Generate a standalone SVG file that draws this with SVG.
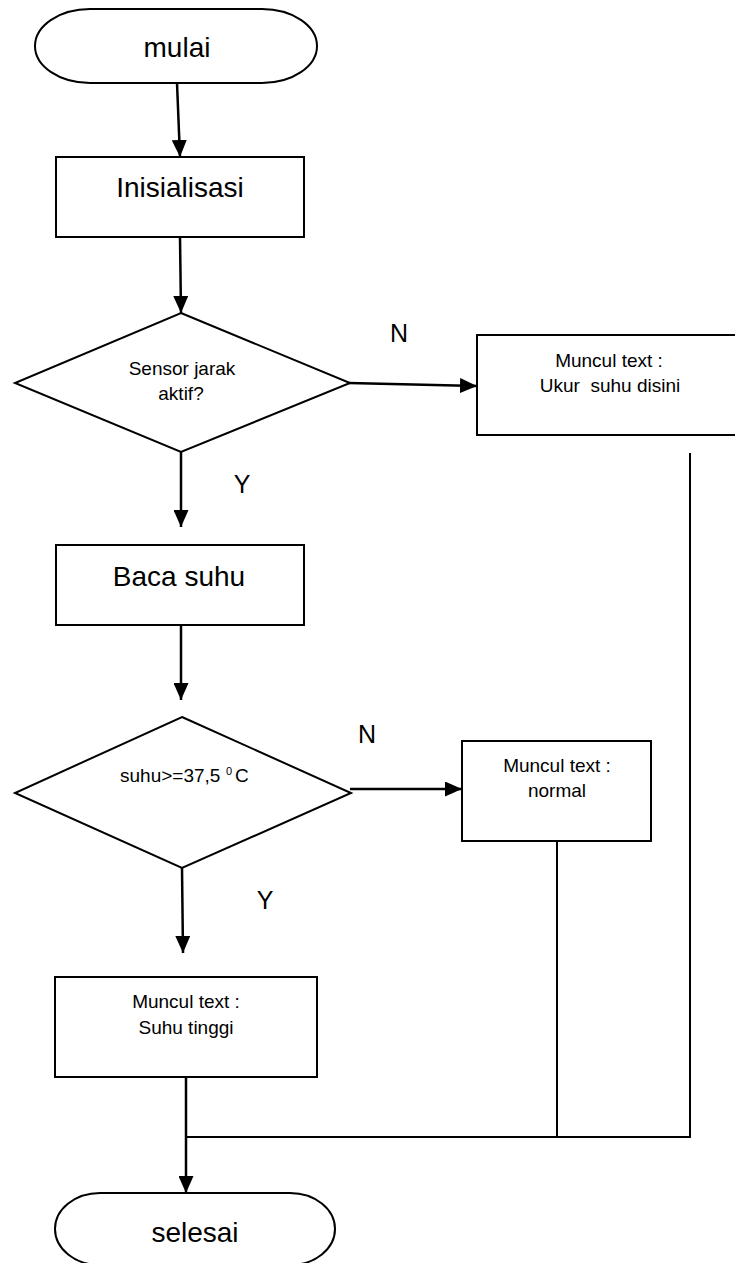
<svg xmlns="http://www.w3.org/2000/svg" width="735" height="1263" viewBox="0 0 735 1263">
<style>
.shape{fill:#fff;stroke:#000;stroke-width:2}
.conn{fill:none;stroke:#000;stroke-width:2.5}
.line{fill:none;stroke:#000;stroke-width:2}
text{font-family:"Liberation Sans",Arial,sans-serif;fill:#000}
.big{font-size:28px;text-anchor:middle}
.sm{font-size:19px;text-anchor:middle;white-space:pre}
.lbl{font-size:25px;text-anchor:middle}
</style>
<defs>
<marker id="arr" markerUnits="userSpaceOnUse" markerWidth="17" markerHeight="15" refX="17" refY="7.5" orient="auto">
<path d="M0,0 L17,7.5 L0,15 Z" fill="#000"/>
</marker>
</defs>
<rect width="735" height="1263" fill="#fff"/>
<g id="connectors">
<line class="conn" x1="177" y1="83" x2="180" y2="157" marker-end="url(#arr)"/>
<line class="conn" x1="180" y1="237" x2="181" y2="313" marker-end="url(#arr)"/>
<line class="conn" x1="349" y1="383" x2="477" y2="386" marker-end="url(#arr)"/>
<line class="conn" x1="181" y1="452" x2="181" y2="527" marker-end="url(#arr)"/>
<line class="conn" x1="181" y1="625" x2="181" y2="700" marker-end="url(#arr)"/>
<line class="conn" x1="350" y1="789" x2="462" y2="789" marker-end="url(#arr)"/>
<line class="conn" x1="182" y1="868" x2="183" y2="953" marker-end="url(#arr)"/>
<line class="conn" x1="186" y1="1077" x2="186" y2="1193" marker-end="url(#arr)"/>
<polyline class="line" points="186,1137 690,1137 690,453"/>
<line class="line" x1="557" y1="841" x2="557" y2="1137"/>
</g>
<g id="mulai">
<rect class="shape" x="35" y="9" width="282" height="74" rx="55" ry="37"/>
<text class="big" x="177" y="57">mulai</text>
</g>
<g id="inisialisasi">
<rect class="shape" x="56" y="157" width="248" height="80"/>
<text class="big" x="180" y="197">Inisialisasi</text>
</g>
<g id="sensor">
<polygon class="shape" points="181,313 350,383 181,452 15,383"/>
<text class="sm" x="182" y="375">Sensor jarak</text>
<text class="sm" x="181" y="400">aktif?</text>
</g>
<g id="ukur">
<rect class="shape" x="477" y="335" width="260" height="100"/>
<text class="sm" x="609" y="367">Muncul text :</text>
<text class="sm" x="610" y="392">Ukur  suhu disini</text>
</g>
<g id="baca">
<rect class="shape" x="56" y="545" width="248" height="80"/>
<text class="big" x="179" y="586">Baca suhu</text>
</g>
<g id="cek-suhu">
<polygon class="shape" points="182,717 351,793 182,868 15,793"/>
<text style="font-size:19px" x="120" y="782">suhu&gt;=37,5</text>
<text style="font-size:11px" x="226" y="775">0</text>
<text style="font-size:19px" x="235" y="782">C</text>
</g>
<g id="normal">
<rect class="shape" x="462" y="741" width="189" height="100"/>
<text class="sm" x="557" y="772">Muncul text :</text>
<text class="sm" x="557" y="797">normal</text>
</g>
<g id="tinggi">
<rect class="shape" x="55" y="977" width="262" height="100"/>
<text class="sm" x="186" y="1008">Muncul text :</text>
<text class="sm" x="186" y="1034">Suhu tinggi</text>
</g>
<g id="selesai">
<rect class="shape" x="55" y="1193" width="280" height="72" rx="45" ry="36"/>
<text class="big" x="195" y="1242">selesai</text>
</g>
<g id="labels">
<text class="lbl" x="399" y="342">N</text>
<text class="lbl" x="242" y="493">Y</text>
<text class="lbl" x="367" y="743">N</text>
<text class="lbl" x="265" y="909">Y</text>
</g>
</svg>
